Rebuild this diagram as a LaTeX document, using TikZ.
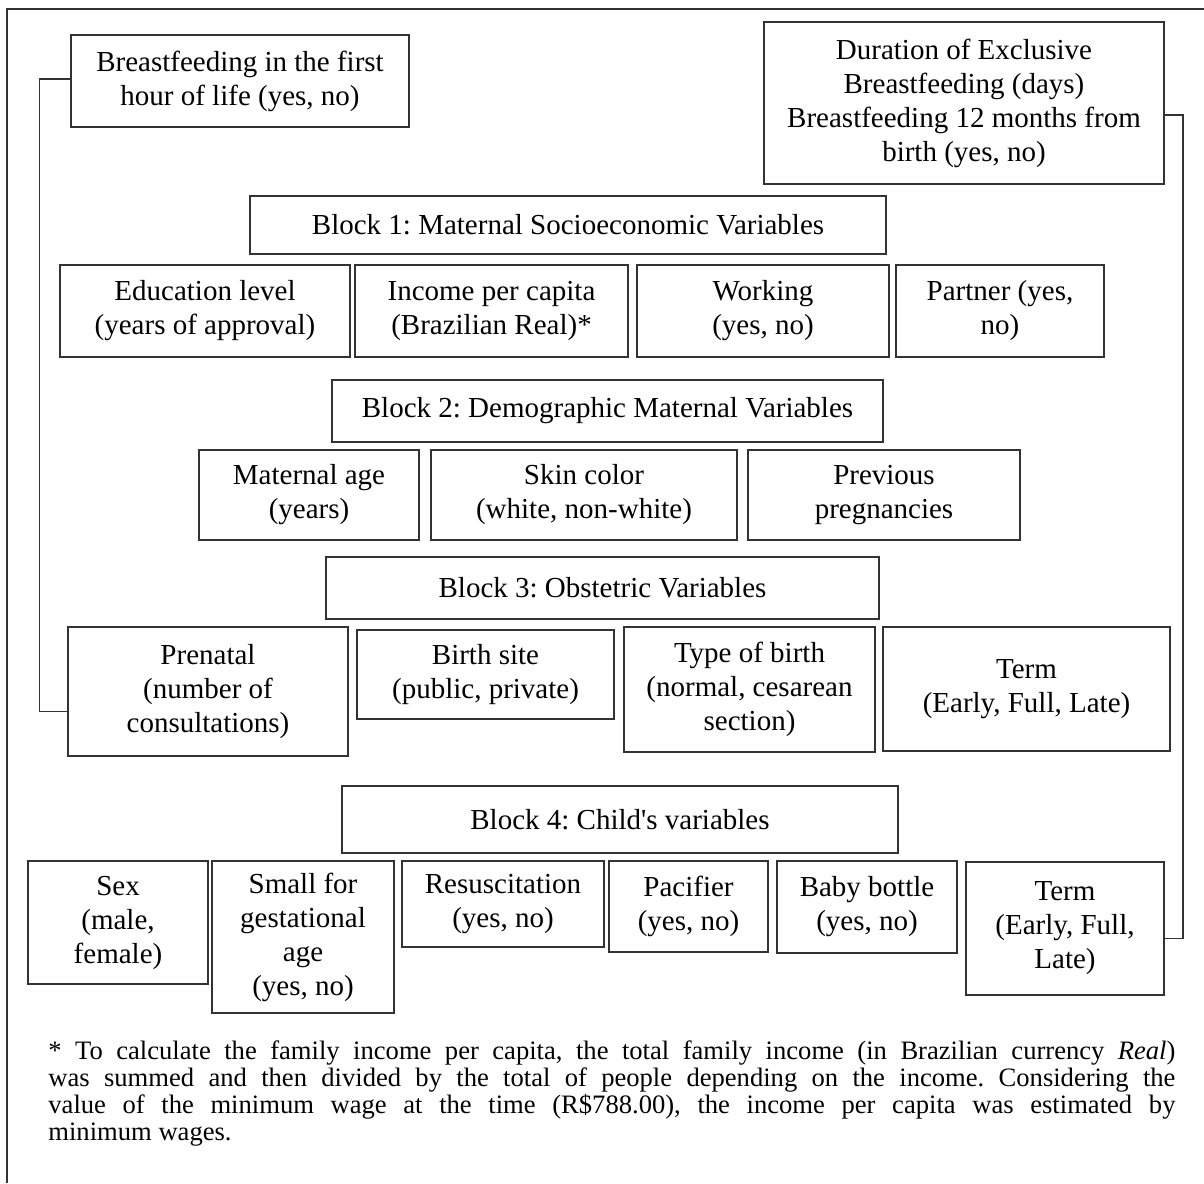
\documentclass[tikz,border=0pt]{standalone}
\usepackage{fontspec}
\setmainfont{Liberation Serif}
\usetikzlibrary{positioning,calc}
\definecolor{FrameGray}{HTML}{333333}
\frenchspacing
\tikzset{
  VB/.style={rectangle,draw=FrameGray,line width=0.9pt,inner sep=2pt,
             text centered,align=center,
             font=\fontsize{14.5}{17}\selectfont},
  BK/.style={VB},
  lnk/.style={draw=FrameGray,line width=0.6pt},
  note/.style={inner sep=0pt,anchor=north west,text width=563.5pt,
               align=justify,font=\fontsize{13.3}{13.5}\selectfont}
}
\begin{document}
\begin{tikzpicture}[x=0.5pt,y=-0.5pt]
  \useasboundingbox (0,0) rectangle (1204,1183);
  % outer frame
  \draw[lnk,line width=0.8pt] (7,1183) -- (7,9) -- (1204,9);

  % outcomes
  \node[VB,minimum width=169pt,minimum height=46pt] (bfirst) at (240,81) {Breastfeeding in the first\\hour of life (yes, no)};
  \node[VB,minimum width=200pt,minimum height=81pt] (dur) at (964,103) {Duration of Exclusive\\Breastfeeding (days)\\Breastfeeding 12 months from\\birth (yes, no)};

  % block 1
  \node[BK,minimum width=318pt,minimum height=29pt] (blk1) at (568,225) {Block 1: Maternal Socioeconomic Variables};
  \node[VB,minimum width=145pt,minimum height=46pt] (edu) at (205,311) {Education level\\(years of approval)};
  \node[VB,minimum width=136.5pt,minimum height=46pt] (inc) at (491.5,311) {Income per capita\\(Brazilian Real)*};
  \node[VB,minimum width=126pt,minimum height=46pt] (work) at (763,311) {Working\\(yes, no)};
  \node[VB,minimum width=104pt,minimum height=46pt] (partner) at (1000,311) {Partner (yes,\\no)};

  % block 2
  \node[BK,minimum width=275.5pt,minimum height=31pt] (blk2) at (607.5,411) {Block 2: Demographic Maternal Variables};
  \node[VB,minimum width=110pt,minimum height=45pt] (age) at (309,495) {Maternal age\\(years)};
  \node[VB,minimum width=153pt,minimum height=45pt] (skin) at (584,495) {Skin color\\(white, non-white)};
  \node[VB,minimum width=136pt,minimum height=45pt] (prev) at (884,495) {Previous\\pregnancies};

  % block 3
  \node[BK,minimum width=276.5pt,minimum height=31pt] (blk3) at (602.5,588) {Block 3: Obstetric Variables};
  \node[VB,minimum width=140pt,minimum height=64.5pt] (pren) at (208,691.5) {Prenatal\\(number of\\consultations)};
  \node[VB,minimum width=128.5pt,minimum height=44.5pt] (site) at (485.5,674.5) {Birth site\\(public, private)};
  \node[VB,minimum width=125.5pt,minimum height=62.5pt] (type) at (749.5,689.5) {Type of birth\\(normal, cesarean\\section)};
  \node[VB,minimum width=143.5pt,minimum height=62pt] (term1) at (1026.5,689) {Term\\(Early, Full, Late)};

  % block 4
  \node[BK,minimum width=278pt,minimum height=33.5pt] (blk4) at (620,819.5) {Block 4: Child\textquotesingle s variables};
  \node[VB,minimum width=90pt,minimum height=61.5pt] (sex) at (118,922.5) {Sex\\(male,\\female)};
  \node[VB,minimum width=91pt,minimum height=76pt] (sga) at (303,937) {Small for\\gestational\\age\\(yes, no)};
  \node[VB,minimum width=101pt,minimum height=43pt] (resus) at (503,904) {Resuscitation\\(yes, no)};
  \node[VB,minimum width=79.5pt,minimum height=45.5pt] (paci) at (688.5,906.5) {Pacifier\\(yes, no)};
  \node[VB,minimum width=90pt,minimum height=46pt] (bottle) at (867,907) {Baby bottle\\(yes, no)};
  \node[VB,minimum width=99pt,minimum height=66.5pt] (term2) at (1065,928.5) {Term\\(Early, Full,\\Late)};

  % brackets
  \draw[lnk] ([yshift=1pt]bfirst.west) -- ++(-31,0) |- ([yshift=-10pt]pren.west);
  \draw[lnk] ([yshift=-6pt]dur.east) -- ++(18,0) |- ([yshift=-5pt]term2.east);

  % footnote
  \node[note] (fn) at (48,1040) {* To calculate the family income per capita, the total family income (in Brazilian currency \textit{Real})\linebreak
  was summed and then divided by the total of people depending on the income. Considering the\linebreak
  value of the minimum wage at the time (R\$788.00), the income per capita was estimated by\linebreak
  minimum wages.};
\end{tikzpicture}
\end{document}
